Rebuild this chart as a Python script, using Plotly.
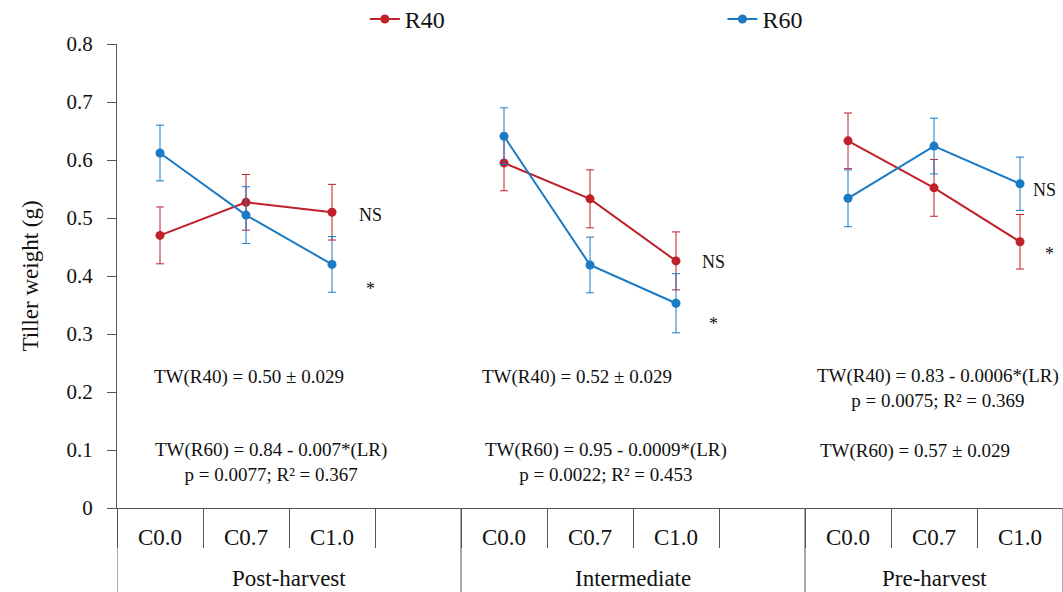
import plotly.graph_objects as go

groups = ["Post-harvest"] * 4 + ["Intermediate"] * 4 + ["Pre-harvest"] * 3
subcats = ["C0.0", "C0.7", "C1.0", "", "C0.0", "C0.7", "C1.0", "", "C0.0", "C0.7", "C1.0"]
group_names = ["Post-harvest", "Intermediate", "Pre-harvest"]

r40 = [0.470, 0.527, 0.510, None, 0.595, 0.533, 0.426, None, 0.633, 0.552, 0.459]
r40_err = [0.049, 0.048, 0.048, None, 0.048, 0.050, 0.050, None, 0.048, 0.049, 0.047]
r60 = [0.612, 0.505, 0.420, None, 0.641, 0.419, 0.353, None, 0.534, 0.624, 0.559]
r60_err = [0.048, 0.049, 0.048, None, 0.049, 0.048, 0.051, None, 0.049, 0.048, 0.046]

y_tickvals = [0, 0.1, 0.2, 0.3, 0.4, 0.5, 0.6, 0.7, 0.8]
y_ticktext = ["0", "0.1", "0.2", "0.3", "0.4", "0.5", "0.6", "0.7", "0.8"]

cat_ids = [f"{g}|{s}" for g, s in zip(groups, subcats)]

red = "#C0202A"
blue = "#1A7AC4"
FONT = "Liberation Serif, Times New Roman, serif"
TXT = "#111111"
axcol = "#555555"

fig = go.Figure()
fig.add_trace(go.Scatter(
    x=cat_ids, y=r40, name="R40", mode="lines+markers", legend="legend",
    line=dict(color=red, width=2), marker=dict(color=red, size=9),
    error_y=dict(type="data", array=r40_err, color=red, thickness=1, width=4),
))
fig.add_trace(go.Scatter(
    x=cat_ids, y=r60, name="R60", mode="lines+markers", legend="legend2",
    line=dict(color=blue, width=2), marker=dict(color=blue, size=9),
    error_y=dict(type="data", array=r60_err, color=blue, thickness=1, width=4),
))

notes = [
    (2.45, 0.505, "NS", 18), (2.45, 0.377, "*", 18),
    (6.44, 0.424, "NS", 18), (6.44, 0.317, "*", 18),
    (10.29, 0.548, "NS", 18), (10.34, 0.438, "*", 18),
    (1.03, 0.226, "TW(R40) = 0.50 ± 0.029", 19),
    (1.29, 0.0793, "TW(R60) = 0.84 - 0.007*(LR)<br>p = 0.0077; R² = 0.367", 19),
    (4.85, 0.226, "TW(R40) = 0.52 ± 0.029", 19),
    (5.19, 0.0793, "TW(R60) = 0.95 - 0.0009*(LR)<br>p = 0.0022; R² = 0.453", 19),
    (9.05, 0.207, "TW(R40) = 0.83 - 0.0006*(LR)<br>p = 0.0075; R² = 0.369", 19),
    (8.78, 0.098, "TW(R60) = 0.57 ± 0.029", 19),
]
for x, y, t, s in notes:
    fig.add_annotation(x=x, y=y, xref="x", yref="y", text=t, showarrow=False,
                       font=dict(family=FONT, size=s, color=TXT), align="center")

bounds = [-0.5]
for i in range(1, len(groups)):
    if groups[i] != groups[i - 1]:
        bounds.append(i - 0.5)
bounds.append(len(groups) - 0.5)
for gname in group_names:
    idx = [i for i, g in enumerate(groups) if g == gname]
    fig.add_annotation(x=(idx[0] + idx[-1]) / 2, y=0, xref="x", yref="paper",
                       yanchor="middle", yshift=-70, text=gname, showarrow=False,
                       font=dict(family=FONT, size=23, color=TXT))
for b in bounds:
    fig.add_shape(type="line", xref="x", yref="paper", x0=b, x1=b,
                  y0=0, y1=-84 / 464, line=dict(color=axcol, width=1))

fig.update_layout(
    width=1063, height=592,
    margin=dict(l=117, r=0, t=44, b=84, autoexpand=False),
    paper_bgcolor="white", plot_bgcolor="white",
    font=dict(family=FONT, color=TXT),
    showlegend=True,
    legend=dict(orientation="h", x=0.262, y=1.053, xanchor="left", yanchor="middle",
                font=dict(family=FONT, size=24, color=TXT), bgcolor="rgba(0,0,0,0)"),
    legend2=dict(orientation="h", x=0.640, y=1.053, xanchor="left", yanchor="middle",
                 font=dict(family=FONT, size=24, color=TXT), bgcolor="rgba(0,0,0,0)"),
    xaxis=dict(
        type="category", categoryorder="array", categoryarray=cat_ids,
        tickmode="array", tickvals=cat_ids, ticktext=subcats,
        range=[-0.5, len(cat_ids) - 0.5],
        showline=True, linecolor=axcol, linewidth=1,
        ticks="outside", tickson="boundaries", ticklen=39, tickcolor=axcol,
        ticklabelstandoff=8,
        tickfont=dict(family=FONT, size=23, color=TXT),
        showgrid=False, zeroline=False,
    ),
    yaxis=dict(
        range=[0, 0.8], tickmode="array", tickvals=y_tickvals, ticktext=y_ticktext,
        showline=True, linecolor=axcol, linewidth=1,
        ticks="outside", ticklen=9, tickcolor=axcol, ticklabelstandoff=10,
        tickfont=dict(family=FONT, size=21, color=TXT),
        showgrid=False, zeroline=False,
        title=dict(text="Tiller weight (g)", font=dict(family=FONT, size=23, color=TXT), standoff=21),
    ),
)

fig.write_html(
    "out.html",
    config={"displayModeBar": False},
    post_script="document.body.style.margin='0';document.body.style.overflow='hidden';",
)
